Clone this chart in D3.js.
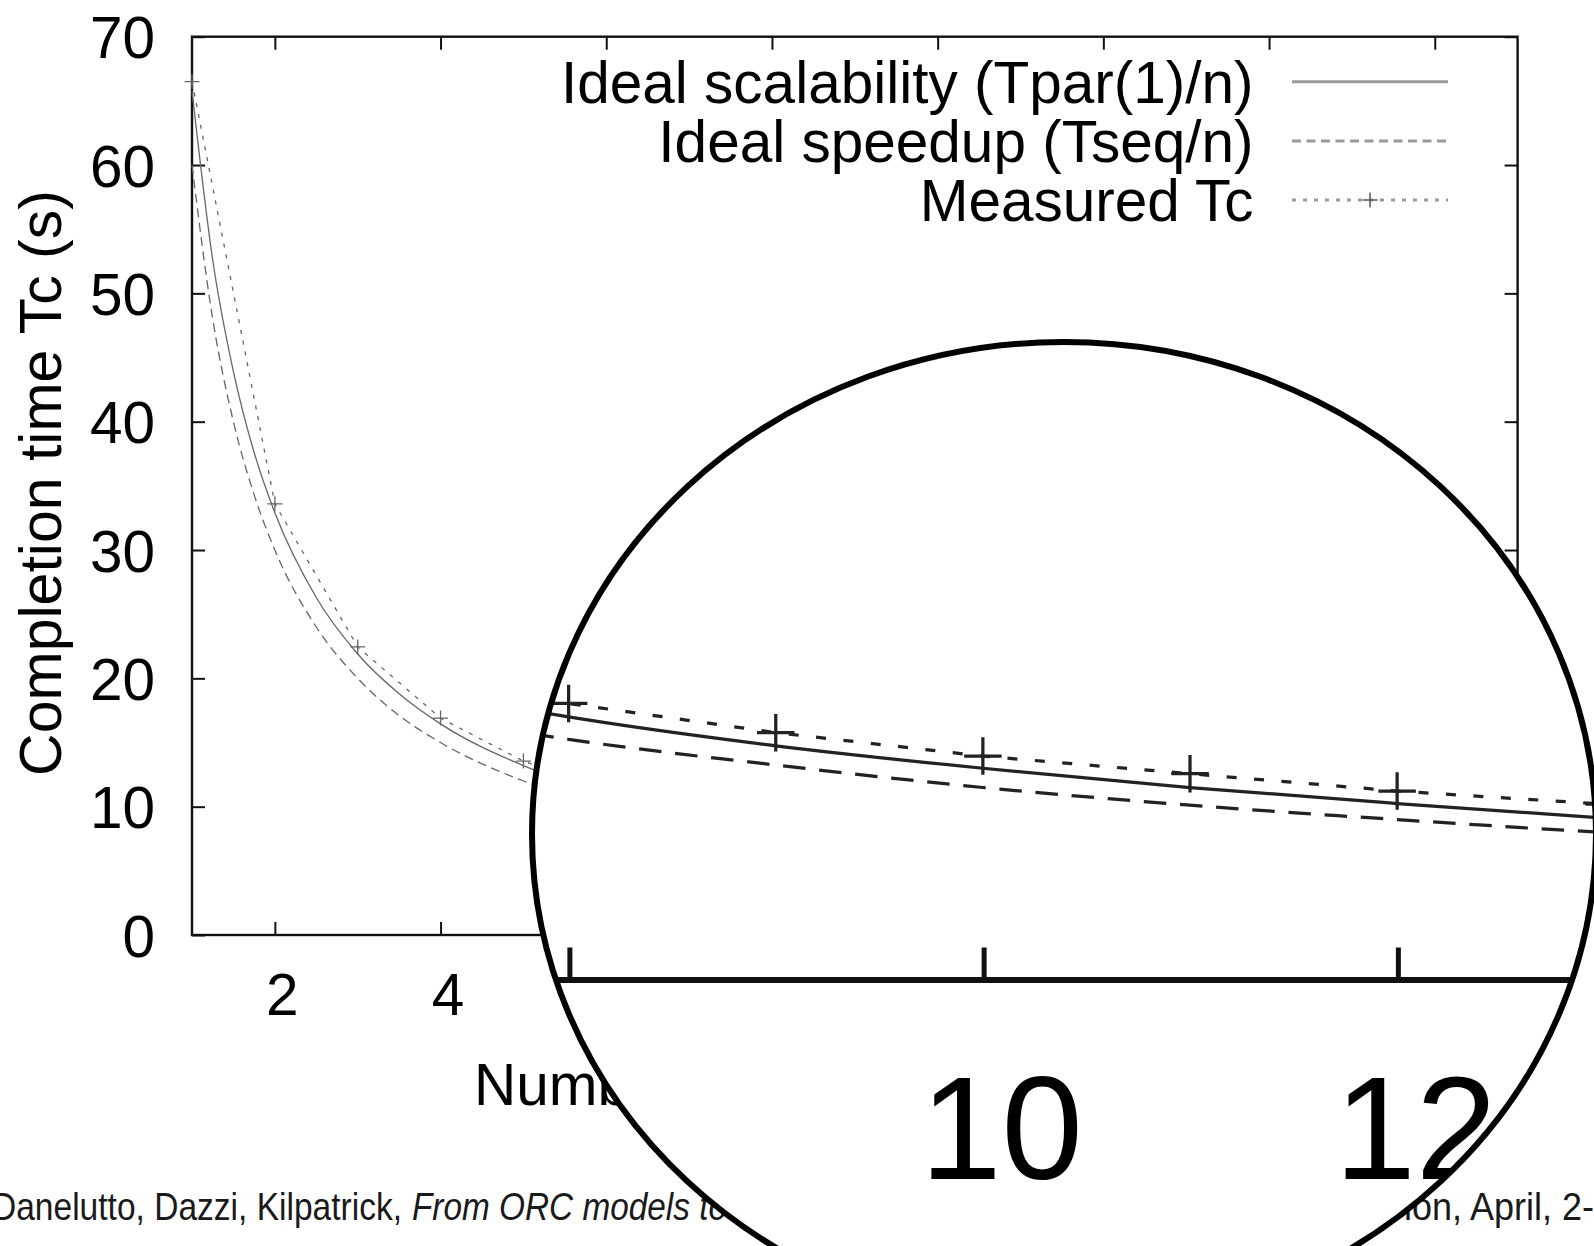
<!DOCTYPE html>
<html>
<head>
<meta charset="utf-8">
<script src="https://cdn.jsdelivr.net/npm/d3@7"></script>
<style>
  body { margin: 0; background: #fff; }
  svg { display: block; font-family: "Liberation Sans", Arial, Helvetica, sans-serif; }
</style>
</head>
<body>
<svg id="chart" width="1594" height="1246"></svg>
<script>
// values
let nWorkers = [1, 2, 3, 4, 5, 6, 7, 8, 9, 10, 11, 12, 13, 14, 15, 16];
let measuredTc = [66.5, 33.6, 22.45, 16.9, 13.55, 11.4, 9.8, 8.62, 7.71, 6.98, 6.43, 5.89, 5.48, 5.15, 4.85, 4.6];

let idealX = [1, 1.25, 1.5, 1.75, 2, 2.5, 3, 3.5, 4, 5, 6, 7, 8, 9, 10, 11, 12, 13, 14, 15, 16, 17];
let idealScalability = [65.8, 52.6, 43.9, 37.6, 32.9, 26.3, 21.9, 18.8, 16.45, 13.2, 11.0, 9.4, 8.2, 7.3, 6.6, 6.0, 5.5, 5.05, 4.7, 4.4, 4.1, 3.9];
let idealSpeedup = [60, 48, 40, 34.3, 30, 24, 20, 17.1, 15, 12, 10, 8.6, 7.5, 6.7, 6.0, 5.45, 5.0, 4.6, 4.3, 4.0, 3.75, 3.5];

let xTickValues = [2, 4, 6, 8, 10, 12, 14, 16];
let yTickValues = [0, 10, 20, 30, 40, 50, 60, 70];
let legendLabels = ["Ideal scalability (Tpar(1)/n)", "Ideal speedup (Tseq/n)", "Measured Tc"];
let yLabel = "Completion time Tc (s)";
let xLabel = "Number of processing nodes";

let svg = d3.select("#chart");

let x = d3.scaleLinear().domain([1, 17]).range([192, 1517.6]);
let y = d3.scaleLinear().domain([0, 70]).range([935, 36.7]);

let dashed = "9,5.5";
let dotted = "4,7";

// magnifying lens (slide decoration)
let lens = { cx: 1064, cy: 834, rx: 532, ry: 492 };
let zoomC = [907.5, 905];
let zoomK = 2.5;

function insideLens(px, py) {
  // px,py in plot coords -> where they land once magnified
  let mx = zoomC[0] + zoomK * (px - zoomC[0]);
  let my = zoomC[1] + zoomK * (py - zoomC[1]);
  let dx = (mx - lens.cx) / lens.rx, dy = (my - lens.cy) / lens.ry;
  return dx * dx + dy * dy < 1;
}

function plusPath(s) {
  return "M" + -s + ",0H" + s + "M0," + -s + "V" + s;
}

// draws the gnuplot figure into g; the lens copy only keeps what the lens shows
function drawPlot(g, ink, lensView) {
  let fontSize = 58.5;

  g.append("g")
    .attr("transform", "translate(0," + y(0) + ")")
    .call(d3.axisBottom(x).tickValues(xTickValues).tickSize(-13).tickPadding(38))
    .call(function (a) {
      a.select(".domain").remove();
      a.attr("font-family", null).attr("font-size", fontSize);
      a.selectAll("line").attr("stroke", "#111").attr("stroke-width", 2);
      a.selectAll("text").attr("fill", "#000").attr("dx", 7);
      if (lensView) {
        a.selectAll(".tick text")
          .filter(function (d) { return !insideLens(x(d) + 7, y(0) + 58); })
          .remove();
      }
    });

  if (!lensView) {
    g.append("g")
      .attr("transform", "translate(" + x(1) + ",0)")
      .call(d3.axisLeft(y).tickValues(yTickValues).tickSize(-13).tickPadding(37))
      .call(function (a) {
        a.select(".domain").remove();
        a.attr("font-family", null).attr("font-size", fontSize);
        a.selectAll("line").attr("stroke", "#111").attr("stroke-width", 2);
        a.selectAll("text").attr("fill", "#000").attr("dy", "0.36em");
      });

    g.append("g")
      .attr("transform", "translate(0," + y(70) + ")")
      .call(d3.axisTop(x).tickValues(xTickValues).tickSize(-13).tickFormat(""))
      .call(function (a) {
        a.select(".domain").remove();
        a.selectAll("line").attr("stroke", "#111").attr("stroke-width", 2);
      });

    g.append("g")
      .attr("transform", "translate(" + x(17) + ",0)")
      .call(d3.axisRight(y).tickValues(yTickValues).tickSize(-13).tickFormat(""))
      .call(function (a) {
        a.select(".domain").remove();
        a.selectAll("line").attr("stroke", "#111").attr("stroke-width", 2);
      });
  }

  g.append("rect")
    .attr("x", x(1))
    .attr("y", y(70))
    .attr("width", x(17) - x(1))
    .attr("height", y(0) - y(70))
    .attr("fill", "none")
    .attr("stroke", "#111")
    .attr("stroke-width", 2.4);

  if (!lensView) {
    g.append("text")
      .attr("transform", "translate(61,483) rotate(-90)")
      .attr("text-anchor", "middle")
      .attr("font-size", 59)
      .attr("fill", "#000")
      .text(yLabel);

    g.append("text")
      .attr("x", 474)
      .attr("y", 1105)
      .attr("font-size", 58.5)
      .attr("fill", "#000")
      .text(xLabel);
  }

  // curves
  let idealLine = d3.line()
    .x(function (d) { return x(d[0]); })
    .y(function (d) { return y(d[1]); })
    .curve(d3.curveMonotoneX);

  g.append("path")
    .attr("d", idealLine(d3.zip(idealX, idealScalability)))
    .attr("fill", "none")
    .attr("stroke", ink)
    .attr("stroke-width", 1.3);

  g.append("path")
    .attr("d", idealLine(d3.zip(idealX, idealSpeedup)))
    .attr("fill", "none")
    .attr("stroke", ink)
    .attr("stroke-width", 1.3)
    .attr("stroke-dasharray", dashed);

  let measLine = d3.line()
    .x(function (d) { return x(d[0]); })
    .y(function (d) { return y(d[1]); });

  g.append("path")
    .attr("d", measLine(d3.zip(nWorkers, measuredTc)))
    .attr("fill", "none")
    .attr("stroke", ink)
    .attr("stroke-width", 1.3)
    .attr("stroke-dasharray", dotted);

  g.append("g")
    .selectAll("path")
    .data(d3.zip(nWorkers, measuredTc))
    .enter()
    .append("path")
    .attr("transform", function (d) {
      return "translate(" + x(d[0]) + "," + y(d[1]) + ")";
    })
    .attr("d", plusPath(7.5))
    .attr("stroke", ink)
    .attr("stroke-width", 1.3);

  if (lensView) return;

  // legend
  let legend = g.append("g");
  let dashes = [null, dashed, dotted];
  legendLabels.forEach(function (lab, i) {
    let ly = 81.7 + i * 59.2;
    legend.append("text")
      .attr("x", 1253.5)
      .attr("y", ly)
      .attr("dy", "0.36em")
      .attr("text-anchor", "end")
      .attr("font-size", fontSize)
      .attr("fill", "#000")
      .text(lab);
    legend.append("line")
      .attr("x1", 1292)
      .attr("x2", 1448)
      .attr("y1", ly)
      .attr("y2", ly)
      .attr("stroke", "#9a9a9a")
      .attr("stroke-width", 3)
      .attr("stroke-dasharray", dashes[i]);
    if (i == 2) {
      legend.append("path")
        .attr("transform", "translate(1370," + ly + ")")
        .attr("d", plusPath(7.5))
        .attr("stroke", "#555")
        .attr("stroke-width", 1.5);
    }
  });
}

drawPlot(svg.append("g"), "#666", false);

// slide footer
let footer = svg.append("g").attr("font-size", 39.5).attr("fill", "#1a1a1a");
footer.append("text")
  .attr("x", -8).attr("y", 1220)
  .attr("textLength", 410).attr("lengthAdjust", "spacingAndGlyphs")
  .text("Danelutto, Dazzi, Kilpatrick,");
footer.append("text")
  .attr("x", 412).attr("y", 1220)
  .attr("font-style", "italic")
  .attr("textLength", 315).attr("lengthAdjust", "spacingAndGlyphs")
  .text("From ORC models to");
footer.append("text")
  .attr("x", 1404).attr("y", 1220)
  .attr("textLength", 190).attr("lengthAdjust", "spacingAndGlyphs")
  .text("ion, April, 2-");

svg.append("defs")
  .append("clipPath")
  .attr("id", "lensClip")
  .append("ellipse")
  .attr("cx", lens.cx).attr("cy", lens.cy)
  .attr("rx", lens.rx).attr("ry", lens.ry);

svg.append("ellipse")
  .attr("cx", lens.cx).attr("cy", lens.cy)
  .attr("rx", lens.rx).attr("ry", lens.ry)
  .attr("fill", "#fff");

let magnified = svg.append("g")
  .attr("clip-path", "url(#lensClip)")
  .append("g")
  .attr("transform",
    "translate(" + zoomC[0] + "," + zoomC[1] + ") scale(" + zoomK + ") translate(" + -zoomC[0] + "," + -zoomC[1] + ")");
drawPlot(magnified, "#222", true);

svg.append("ellipse")
  .attr("cx", lens.cx).attr("cy", lens.cy)
  .attr("rx", lens.rx).attr("ry", lens.ry)
  .attr("fill", "none")
  .attr("stroke", "#000")
  .attr("stroke-width", 6);
</script>
</body>
</html>
